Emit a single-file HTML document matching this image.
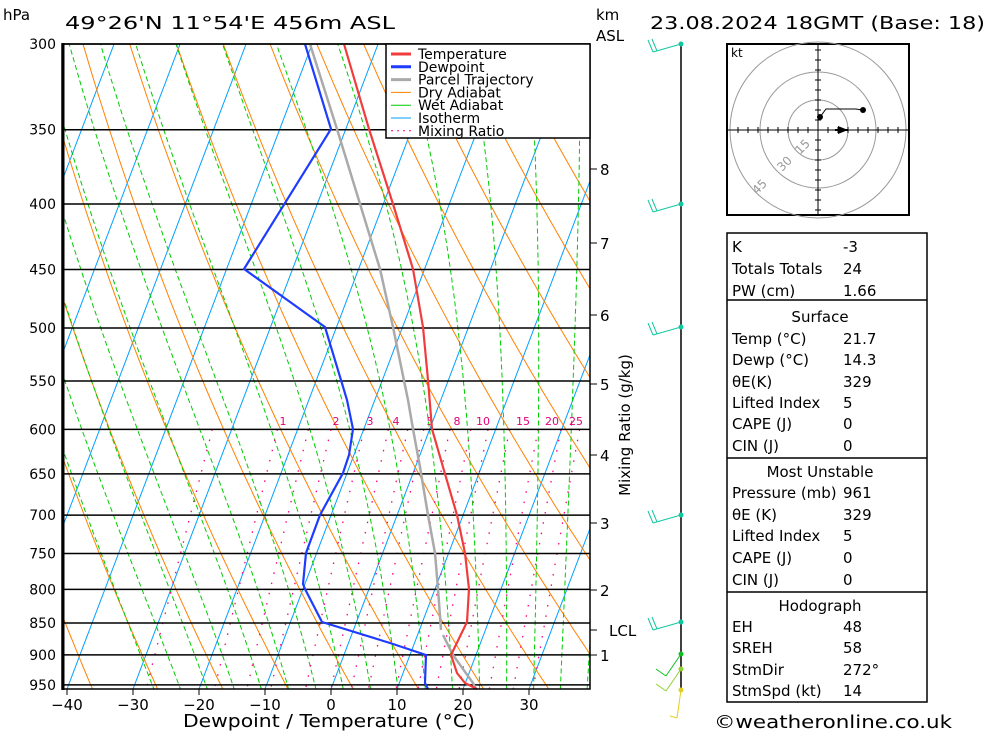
<!DOCTYPE html>
<html><head><meta charset="utf-8"><style>
body{margin:0;background:#fff}
svg{display:block;font-family:"DejaVu Sans","Liberation Sans",sans-serif}
</style></head><body>
<svg id="s" width="1000" height="733" viewBox="0 0 1000 733" xmlns="http://www.w3.org/2000/svg">
<defs><clipPath id="c"><rect x="62" y="44" width="528" height="645"/></clipPath></defs>
<g id="bg" clip-path="url(#c)"></g>
<g id="fg"></g>
</svg>
<script>
const NS="http://www.w3.org/2000/svg";
const bg=document.getElementById('bg'),fg=document.getElementById('fg');
function el(p,t,a,txt){const e=document.createElementNS(NS,t);for(const k in a)e.setAttribute(k,a[k]);if(txt!==undefined)e.textContent=txt;p.appendChild(e);return e;}
const Y=p=>44+556*Math.log(p/300);
const X=(T,y)=>331+6.6*T+0.38*(689-y);
function line(pts,st,par){el(par||bg,'polyline',Object.assign({points:pts.map(q=>q[0].toFixed(1)+','+q[1].toFixed(1)).join(' '),fill:'none'},st));}
for(let T=-110;T<=50;T+=10){line([[X(T,689),689],[X(T,44),44]],{stroke:'#00a0ff','stroke-width':1});}
for(let th=240;th<=500;th+=10){const pts=[];for(let p=300;p<=960;p+=10){const T=th*Math.pow(p/1000,0.286)-273.15;const y=Y(p);pts.push([X(T,y),y]);}line(pts,{stroke:'#ff8000','stroke-width':1});}
function es(T){return 6.112*Math.exp(17.67*T/(T+243.5));}
for(let T0=-24;T0<=40;T0+=4){let T=T0+273.15,p=1000;const pts=[];while(p>=295){const y=Y(p);pts.push([X(T-273.15,y),y]);const e=es(T-273.15);const rs=0.622*e/(p-e);const dTdp=(287*T+2.5e6*rs)/(p*(1004+2.5e6*2.5e6*rs*0.622/(287*T*T)));T-=dTdp*5;p-=5;}
line(pts,{stroke:'#00cc00','stroke-width':1,'stroke-dasharray':'5,3'});}
const ws=[0.4,1,1.5,2,3,4,5,6,8,10,12,15,20,25,30];
for(const w of ws){const pts=[];for(let p=600;p<=960;p+=10){const e=w*p/(622+w);const l=Math.log(e/6.112);const T=243.5*l/(17.67-l);const y=Y(p);pts.push([X(T,y),y]);}line(pts,{stroke:'#ff0080','stroke-width':1.3,'stroke-dasharray':'1.5,9'});}
const P=[300,350,400,450,500,550,600,650,700,750,800,850,900,950];
for(const p of P){el(fg,'line',{x1:62,x2:590,y1:Y(p),y2:Y(p),stroke:'#000','stroke-width':1.5});el(fg,'text',{x:56,y:Y(p)+5,'text-anchor':'end','font-size':14},p);}
[[1,283],[2,336],[3,370],[4,396],[5,430],[8,457],[10,483],[15,523],[20,552],[25,576]].forEach(a=>el(fg,'text',{x:a[1],y:425,'text-anchor':'middle','font-size':11,fill:'#e0007a'},a[0]));
line([[305,44],[331,129],[244,269],[325,327],[347,400],[353,429],[349,455],[343,473],[320,515],[306,553],[303,584],[305,589],[322,622],[348,630],[390,643],[426,655],[425,683],[428,689]],{stroke:'#1e3cff','stroke-width':2.2},fg);
line([[310,44],[337,129],[380,269],[393,327],[408,400],[413,429],[420,467],[428,515],[435,553],[438,589],[441,630]],{stroke:'#aaa','stroke-width':2.5},fg);
line([[443,635],[453,655],[473,683],[476,689]],{stroke:'#aaa','stroke-width':2.5},fg);
line([[344,44],[369,129],[393,204],[413,269],[423,327],[428,380],[432,429],[443,467],[457,515],[465,553],[469,589],[467,622],[451,655],[457,673],[465,683],[477,689]],{stroke:'#f03c3c','stroke-width':2.2},fg);
el(fg,'rect',{x:62,y:44,width:528,height:645,fill:'none',stroke:'#000','stroke-width':1.5});
el(fg,'line',{x1:63,y1:43,x2:63,y2:690,stroke:'#000','stroke-width':3});
for(let T=-40;T<=30;T+=10){const x=331+6.6*T;el(fg,'line',{x1:x,x2:x,y1:689,y2:695,stroke:'#000'});el(fg,'text',{x:x,y:710,'text-anchor':'middle','font-size':15},T<0?'−'+(-T):T);}
el(fg,'text',{x:183,y:727,'font-size':18,textLength:292,lengthAdjust:'spacingAndGlyphs'},'Dewpoint / Temperature (°C)');
el(fg,'rect',{x:386,y:44,width:204,height:94,fill:'#fff',stroke:'#000','stroke-width':1.5});
[['Temperature','#f03c3c',3],['Dewpoint','#1e3cff',3],['Parcel Trajectory','#aaa',3],['Dry Adiabat','#ff8000',1],['Wet Adiabat','#00cc00',1],['Isotherm','#00a0ff',1],['Mixing Ratio','#ff0080',1]].forEach((a,i)=>{const y=54+i*12.8;const st={x1:391,x2:411,y1:y,y2:y,stroke:a[1],'stroke-width':a[2]};if(i==6)st['stroke-dasharray']='2,4';el(fg,'line',st);el(fg,'text',{x:418,y:y+5,'font-size':14},a[0]);});
el(fg,'text',{x:3,y:20,'font-size':15},'hPa');
el(fg,'text',{x:65,y:29,'font-size':18,textLength:330,lengthAdjust:'spacingAndGlyphs'},'49°26\'N  11°54\'E  456m  ASL');
el(fg,'text',{x:596,y:20,'font-size':15},'km');
el(fg,'text',{x:596,y:41,'font-size':15},'ASL');
el(fg,'text',{x:650,y:29,'font-size':18,textLength:335,lengthAdjust:'spacingAndGlyphs'},'23.08.2024  18GMT  (Base: 18)');
[[8,169],[7,243],[6,315],[5,384],[4,455],[3,523],[2,590],[1,655]].forEach(a=>{el(fg,'line',{x1:590,x2:597,y1:a[1],y2:a[1],stroke:'#000'});el(fg,'text',{x:600,y:a[1]+6,'font-size':15},a[0]);});
el(fg,'line',{x1:590,x2:597,y1:630,y2:630,stroke:'#000'});el(fg,'text',{x:609,y:636,'font-size':15},'LCL');
el(fg,'text',{x:0,y:0,'font-size':15,transform:'translate(630,425) rotate(-90)','text-anchor':'middle'},'Mixing Ratio (g/kg)');
el(fg,'line',{x1:681,x2:681,y1:44,y2:689,stroke:'#000','stroke-width':1.5});
[[44,'#10c8a0',-1],[204,'#10c8a0',-1],[327,'#10c8a0',-1],[515,'#10c8a0',-1],[622,'#10c8a0',-1],[654,'#10c020',0],[669,'#90d030',0],[690,'#e0d020',1]].forEach(a=>{const y=a[0],c=a[1];el(fg,'circle',{cx:681,cy:y,r:2.5,fill:c});
if(a[2]<0){el(fg,'line',{x1:681,y1:y,x2:653,y2:y+8,stroke:c});el(fg,'line',{x1:653,y1:y+8,x2:648,y2:y-4,stroke:c});el(fg,'line',{x1:657,y1:y+7,x2:652,y2:y-5,stroke:c});}
else if(a[2]==0){el(fg,'line',{x1:681,y1:y,x2:666,y2:y+22,stroke:c});el(fg,'line',{x1:666,y1:y+22,x2:656,y2:y+15,stroke:c});}
else{el(fg,'line',{x1:681,y1:y,x2:677,y2:y+28,stroke:c});el(fg,'line',{x1:677,y1:y+28,x2:670,y2:y+26,stroke:c});}});
el(fg,'rect',{x:727,y:44,width:182,height:171,fill:'#fff',stroke:'#000','stroke-width':2});
const hg=el(fg,'g',{});
for(const r of [30,58,88])el(hg,'circle',{cx:818,cy:130,r:r,fill:'none',stroke:'#999'});
el(hg,'line',{x1:727,x2:909,y1:130,y2:130,stroke:'#000'});el(hg,'line',{x1:818,x2:818,y1:44,y2:215,stroke:'#000'});
for(let d=-80;d<=80;d+=10){el(hg,'line',{x1:818+d,x2:818+d,y1:127,y2:133,stroke:'#000'});el(hg,'line',{x1:815,x2:821,y1:130+d,y2:130+d,stroke:'#000'});}
el(hg,'text',{x:731,y:57,'font-size':12},'kt');
[['15',800,155],['30',782,172],['45',757,195]].forEach(a=>el(hg,'text',{x:0,y:0,'font-size':12,fill:'#999',transform:`translate(${a[1]},${a[2]}) rotate(-45)`},a[0]));
el(hg,'polyline',{points:'820,117 826,109 856,109 862,110',fill:'none',stroke:'#000'});
el(hg,'circle',{cx:820,cy:117,r:3});el(hg,'circle',{cx:863,cy:110,r:3});
el(hg,'polygon',{points:'838,126 848,130 838,134'});el(hg,'line',{x1:835,x2:848,y1:130,y2:130,stroke:'#000','stroke-width':2});
el(fg,'rect',{x:727,y:233,width:200,height:469,fill:'#fff',stroke:'#000','stroke-width':1.5});
for(const y of [300,458,592])el(fg,'line',{x1:727,x2:927,y1:y,y2:y,stroke:'#000','stroke-width':1.5});
const rows=[['K','-3',246],['Totals Totals','24',268],['PW (cm)','1.66',290],['Temp (°C)','21.7',338],['Dewp (°C)','14.3',359],['θE(K)','329',381],['Lifted Index','5',402],['CAPE (J)','0',423],['CIN (J)','0',445],['Pressure (mb)','961',492],['θE (K)','329',514],['Lifted Index','5',535],['CAPE (J)','0',557],['CIN (J)','0',579],['EH','48',626],['SREH','58',647],['StmDir','272°',669],['StmSpd (kt)','14',690]];
rows.forEach(r=>{el(fg,'text',{x:732,y:r[2]+6,'font-size':15},r[0]);el(fg,'text',{x:843,y:r[2]+6,'font-size':15},r[1]);});
[['Surface',316],['Most Unstable',471],['Hodograph',605]].forEach(h=>el(fg,'text',{x:820,y:h[1]+6,'font-size':15,'text-anchor':'middle'},h[0]));
el(fg,'text',{x:714,y:728,'font-size':18,textLength:238,lengthAdjust:'spacingAndGlyphs'},'©weatheronline.co.uk');
</script>
</body></html>
